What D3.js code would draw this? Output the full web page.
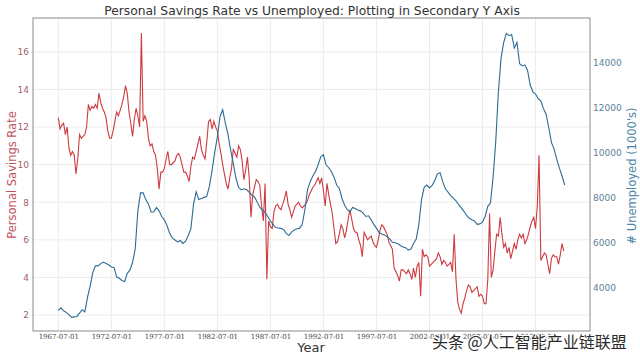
<!DOCTYPE html>
<html>
<head>
<meta charset="utf-8">
<script src="https://cdn.jsdelivr.net/npm/d3@7"></script>
<style>
  body { margin: 0; background: #fff; }
  text { font-family: "DejaVu Sans", sans-serif; }
</style>
</head>
<body>
<script>

// months since 1967-07-01 between samples
var savingsStep = 2;
var unemployStep = 3;

// personal savings rate, every 2 months from 1967-07
var savings = [
  12.5, 11.9, 12.1, 12.2, 11.6, 12.0, 10.9, 10.5, 10.7, 10.5,
  9.5, 10.3, 11.6, 11.4, 11.5, 11.6, 12.0, 13.2, 12.9, 13.1,
  13.0, 13.2, 13.0, 13.8, 13.3, 13.0, 12.8, 12.5, 11.8, 11.4,
  11.4, 11.8, 12.3, 12.8, 12.6, 12.9, 13.2, 13.6, 14.2, 13.8,
  12.8, 12.2, 11.5, 12.4, 13.0, 12.6, 12.0, 17.0, 12.3, 12.6,
  12.3, 11.4, 11.0, 11.1, 10.7, 10.5, 9.8, 8.7, 9.6, 9.6,
  9.8, 10.3, 10.7, 10.0, 10.0, 10.1, 10.2, 10.5, 10.6, 10.4,
  10.0, 9.6, 9.6, 9.4, 9.1, 9.9, 10.4, 10.3, 10.7, 11.1,
  11.5, 10.8, 10.5, 10.3, 11.2, 12.3, 12.4, 11.9, 12.3, 12.0,
  11.8, 11.1, 10.6, 10.0, 9.5, 9.0, 8.7, 9.3, 9.8, 10.8,
  10.6, 10.4, 11.0, 10.8, 10.2, 9.2, 9.7, 10.4, 9.3, 7.2,
  8.4, 8.8, 9.2, 9.1, 8.9, 7.8, 7.0, 9.0, 3.9, 7.0,
  6.7, 6.6, 7.5, 7.8, 7.9, 7.7, 7.6, 7.9, 8.2, 8.6,
  7.9, 7.6, 7.2, 7.5, 7.8, 7.9, 8.0, 7.8, 7.7, 7.8,
  7.9, 8.1, 8.4, 8.6, 8.8, 8.9, 9.1, 9.3, 9.0, 9.3,
  8.6, 7.8, 9.0, 8.4, 7.9, 7.4, 6.6, 5.8, 5.9, 6.3,
  6.8, 6.6, 6.1, 6.5, 7.1, 7.6, 7.1, 6.6, 6.4, 6.4,
  6.0, 5.7, 5.1, 6.4, 6.2, 6.0, 6.1, 6.2, 5.9, 5.7,
  5.6, 6.0, 6.5, 6.8, 6.7, 6.5, 6.3, 5.9, 5.7, 5.5,
  4.5, 4.3, 4.1, 3.8, 4.4, 4.4, 4.3, 4.2, 4.4, 4.2,
  3.9, 4.5, 4.0, 4.6, 4.8, 3.0, 5.5, 5.1, 5.2, 5.1,
  4.6, 4.7, 4.8, 4.9, 5.0, 5.3, 5.1, 4.7, 4.9, 4.8,
  4.6, 4.7, 4.8, 4.3, 6.3, 3.9, 2.7, 2.3, 2.1, 2.6,
  2.9, 3.3, 3.6, 3.5, 3.2, 3.3, 3.4, 3.5, 3.0, 3.1,
  3.0, 2.6, 2.6, 3.9, 7.4, 4.0, 4.4, 5.4, 6.3, 6.2,
  7.2, 6.3, 5.6, 5.8, 5.3, 5.6, 5.0, 5.4, 5.8, 5.5,
  6.0, 6.3, 6.1, 6.3, 5.8, 6.0, 6.3, 6.7, 7.0, 7.2,
  6.6, 7.8, 10.5, 4.9, 5.1, 5.3, 5.2, 4.7, 4.2, 5.0,
  5.2, 5.1, 5.1, 4.7, 5.2, 5.8, 5.4
];

// unemployed (thousands), every 3 months from 1967-07
var unemployed = [
  2970, 3080, 2950, 2880, 2780, 2660, 2680, 2700, 2850, 3000,
  2900, 3550, 4050, 4650, 4950, 4950, 5050, 5120, 5060, 5000,
  4900, 4880, 4450, 4400, 4300, 4250, 4620, 4760, 5100, 5700,
  7400, 8200, 8200, 7900, 7700, 7350, 7350, 7550, 7400, 7150,
  7000, 6750, 6400, 6200, 6100, 6020, 6080, 5950, 6050, 6300,
  6600, 7700, 8250, 7900, 7950, 8000, 8050, 8500, 9200, 10000,
  10700, 11600, 11900, 11300, 10800, 10100, 9500, 8850, 8450, 8330,
  8380, 8350, 8220, 8100, 8020, 7800, 7550, 7450, 7320, 7150,
  6950, 6800, 6660, 6640, 6620, 6560, 6400, 6300, 6450, 6550,
  6600, 6620, 6800, 7450, 8350, 8700, 8950, 9150, 9450, 9800,
  9900, 9450, 9320, 9150, 8900, 8550, 8400, 7950, 7650, 7450,
  7350, 7550, 7500, 7440, 7400, 7300, 7150, 7180, 7000, 6800,
  6630, 6430, 6370, 6330, 6250, 6150, 6000, 5980, 5950, 5860,
  5790, 5760, 5650, 5700, 5950, 6150, 6800, 7900, 8450, 8550,
  8420, 8530, 8750, 9050, 9100, 8700, 8380, 8230, 8080, 7970,
  7850, 7680, 7530, 7380, 7200, 7070, 7000, 6950, 6800, 6820,
  6900, 7150, 7600, 7750, 8900, 10500, 12700, 14200, 14900, 15300,
  15200, 15250, 14650, 14900, 13950, 13850, 13900, 13650, 13000, 12700,
  12600, 12400, 12300, 11950, 11700, 11100, 10450, 10150, 9700, 9300,
  8950, 8550
];

var xTickMonths = [0, 60, 120, 180, 240, 300, 360, 420, 480, 540];
var xTickLabels = ["1967-07-01", "1972-07-01", "1977-07-01", "1982-07-01", "1987-07-01",
                   "1992-07-01", "1997-07-01", "2002-07-01", "2007-07-01", "2012-07-01"];
var savingsTicks = [2, 4, 6, 8, 10, 12, 14, 16];
var unemployTicks = [4000, 6000, 8000, 10000, 12000, 14000];

var w = 640;
var h = 360;
var plotL = 33, plotR = 590, plotT = 18, plotB = 331;

var redLine = "#cd3a40";
var blueLine = "#2c6b93";

var svg = d3.select("body")
        .append("svg")
        .attr("width", w)
        .attr("height", h);

var x = d3.scaleLinear().domain([-28.65, 601.65]).range([plotL, plotR]);
var y1 = d3.scaleLinear().domain([1.15, 17.8]).range([plotB, plotT]);
var y2 = d3.scaleLinear().domain([2052, 15985]).range([plotB, plotT]);

// grid
svg.append("g")
    .selectAll("line")
    .data(xTickMonths)
    .enter()
    .append("line")
    .attr("x1", function(d) { return x(d); })
    .attr("x2", function(d) { return x(d); })
    .attr("y1", plotT)
    .attr("y2", plotB)
    .attr("stroke", "#ececec");

svg.append("g")
    .selectAll("line")
    .data(savingsTicks)
    .enter()
    .append("line")
    .attr("x1", plotL)
    .attr("x2", plotR)
    .attr("y1", function(d) { return y1(d); })
    .attr("y2", function(d) { return y1(d); })
    .attr("stroke", "#ececec");

// lines
var savingsLine = d3.line()
        .x(function(d, i) { return x(i * savingsStep); })
        .y(function(d) { return y1(d); });

var unemployLine = d3.line()
        .x(function(d, i) { return x(i * unemployStep); })
        .y(function(d) { return y2(d); });

svg.append("path")
    .datum(savings)
    .attr("fill", "none")
    .attr("stroke", redLine)
    .attr("stroke-width", 1.1)
    .attr("d", savingsLine);

svg.append("path")
    .datum(unemployed)
    .attr("fill", "none")
    .attr("stroke", blueLine)
    .attr("stroke-width", 1.1)
    .attr("d", unemployLine);

// frame
svg.append("rect")
    .attr("x", plotL)
    .attr("y", plotT)
    .attr("width", plotR - plotL)
    .attr("height", plotB - plotT)
    .attr("fill", "none")
    .attr("stroke", "#8a8a8a")
    .attr("stroke-width", 1);

// axes
var xAxis = d3.axisBottom(x)
        .tickValues(xTickMonths)
        .tickFormat(function(d, i) { return xTickLabels[i]; })
        .tickSize(0)
        .tickPadding(3);

var gx = svg.append("g")
        .attr("transform", "translate(0," + plotB + ")")
        .call(xAxis);
gx.select(".domain").remove();
gx.selectAll("text").attr("font-size", 7).attr("fill", "#444")
    .style("font-family", "'DejaVu Serif', serif");

var gy1 = svg.append("g")
        .attr("transform", "translate(" + plotL + ",0)")
        .call(d3.axisLeft(y1).tickValues(savingsTicks).tickSize(0).tickPadding(4));
gy1.select(".domain").remove();
gy1.selectAll("text").attr("font-size", 9).attr("fill", "#a3606a");

var gy2 = svg.append("g")
        .attr("transform", "translate(" + plotR + ",0)")
        .call(d3.axisRight(y2).tickValues(unemployTicks).tickFormat(d3.format("d"))
              .tickSize(0).tickPadding(3));
gy2.select(".domain").remove();
gy2.selectAll("text").attr("font-size", 9).attr("fill", "#5a7f9b");

// titles
svg.append("text")
    .attr("x", 312)
    .attr("y", 15)
    .attr("text-anchor", "middle")
    .attr("font-size", 12.3)
    .attr("fill", "#333")
    .text("Personal Savings Rate vs Unemployed: Plotting in Secondary Y Axis");

svg.append("text")
    .attr("x", 311)
    .attr("y", 352)
    .attr("text-anchor", "middle")
    .attr("font-size", 13)
    .attr("fill", "#333")
    .text("Year");

svg.append("text")
    .attr("transform", "translate(16,175) rotate(-90)")
    .attr("text-anchor", "middle")
    .attr("font-size", 11.5)
    .attr("fill", "#c05560")
    .text("Personal Savings Rate");

svg.append("text")
    .attr("transform", "translate(636,176) rotate(-90)")
    .attr("text-anchor", "middle")
    .attr("font-size", 11.5)
    .attr("fill", "#4f86a8")
    .text("# Unemployed (1000's)");

// watermark
svg.append("text")
    .attr("x", 432)
    .attr("y", 348)
    .attr("font-size", 16)
    .attr("fill", "#2a2a2a")
    .attr("stroke", "#fff")
    .attr("stroke-width", 2)
    .attr("paint-order", "stroke")
    .style("font-family", "'Noto Sans CJK SC', sans-serif")
    .text("头条 @人工智能产业链联盟");

</script>
</body>
</html>
